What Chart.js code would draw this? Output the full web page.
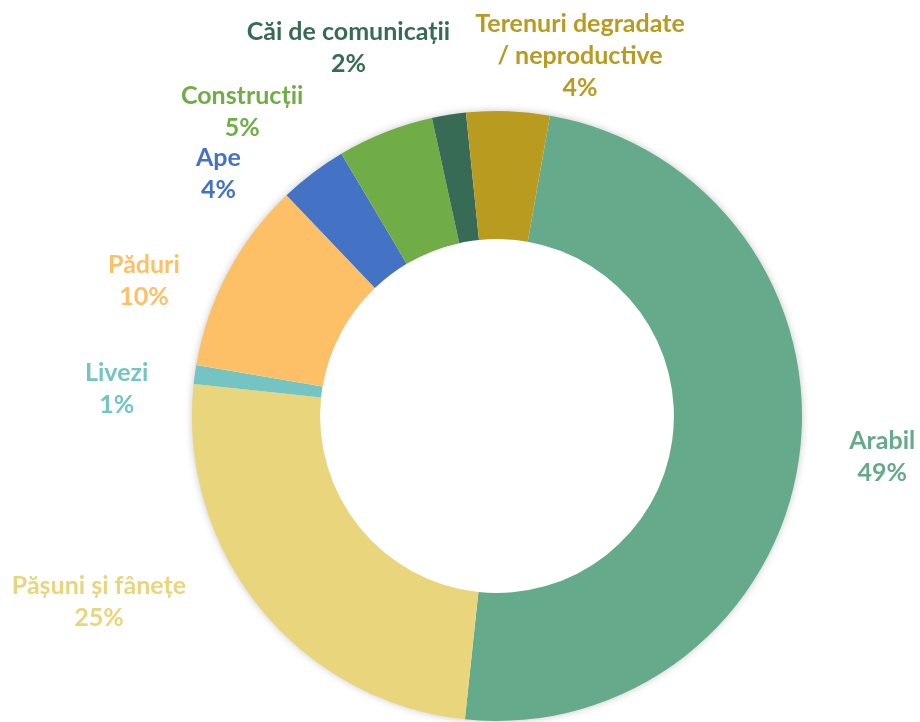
<!DOCTYPE html>
<html>
<head>
<meta charset="utf-8">
<script src="https://cdn.jsdelivr.net/npm/chart.js@4"></script>
<style>
  html, body { margin: 0; padding: 0; background: #fff; }
  #wrap { width: 920px; height: 722px; }
</style>
</head>
<body>
<div id="wrap"><canvas id="chart" width="920" height="722"></canvas></div>
<script>
// land use shares (%)
const categories = ['Arabil', 'Pășuni și fânețe', 'Livezi', 'Păduri', 'Ape', 'Construcții', 'Căi de comunicații', 'Terenuri degradate / neproductive'];
const labelLines = [['Arabil'], ['Pășuni și fânețe'], ['Livezi'], ['Păduri'], ['Ape'], ['Construcții'], ['Căi de comunicații'], ['Terenuri degradate', '/ neproductive']];
const shares = [48.9, 25.0, 1.0, 10.2, 3.6, 5.1, 1.8, 4.4];
const colors = ['#66AA8C', '#E9D57B', '#74C4C4', '#FEC066', '#4472C4', '#70AD47', '#376B55', '#B89B1F'];

// where each label sits: angle (deg, clockwise from top) and distance in outer radii
const labelPlace = [[96, 1.27], [245, 1.44], [274, 1.25], [291, 1.24], [311, 1.21], [320, 1.30], [338, 1.30], [13, 1.21]];

const ringShadow = {
  id: 'ringShadow',
  beforeDatasetsDraw(chart) {
    const arc = chart.getDatasetMeta(0).data[0];
    const ctx = chart.ctx;
    ctx.save();
    ctx.shadowColor = 'rgba(0,0,0,0.28)';
    ctx.shadowBlur = 8;
    ctx.fillStyle = '#fff';
    ctx.beginPath();
    ctx.arc(arc.x, arc.y, arc.outerRadius - 1, 0, Math.PI * 2);
    ctx.fill();
    ctx.restore();
  }
};

const outsideLabels = {
  id: 'outsideLabels',
  afterDatasetsDraw(chart) {
    const ctx = chart.ctx;
    const meta = chart.getDatasetMeta(0);
    const total = shares.reduce((a, b) => a + b, 0);
    ctx.save();
    ctx.font = 'bold 25px Lato';
    ctx.textAlign = 'center';
    ctx.textBaseline = 'middle';
    meta.data.forEach((arc, i) => {
      const [deg, k] = labelPlace[i];
      const a = deg * Math.PI / 180;
      const x = arc.x + arc.outerRadius * k * Math.sin(a);
      const y = arc.y - arc.outerRadius * k * Math.cos(a);
      const lines = labelLines[i].concat([Math.round(shares[i] / total * 100) + '%']);
      const lh = 32;
      ctx.fillStyle = colors[i];
      lines.forEach((t, j) => {
        ctx.fillText(t, x, y + (j - (lines.length - 1) / 2) * lh);
      });
    });
    ctx.restore();
  }
};

new Chart(document.getElementById('chart'), {
  type: 'doughnut',
  data: {
    labels: categories,
    datasets: [{
      data: shares,
      backgroundColor: colors,
      borderWidth: 0
    }]
  },
  options: {
    responsive: false,
    animation: false,
    rotation: 10,
    cutout: '58%',
    layout: { padding: { top: 111, bottom: 1, left: 192, right: 118 } },
    plugins: {
      legend: { display: false },
      tooltip: { enabled: false }
    }
  },
  plugins: [ringShadow, outsideLabels]
});
</script>
</body>
</html>
